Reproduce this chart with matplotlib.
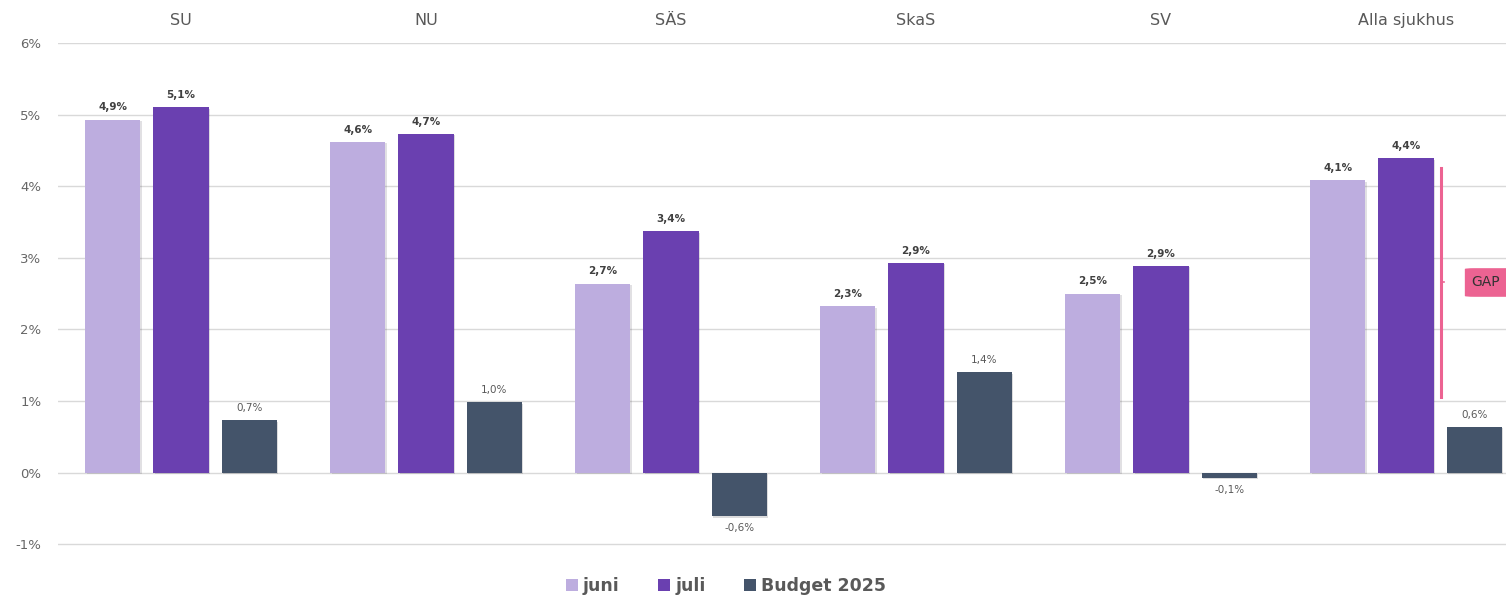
import matplotlib.pyplot as plt
import matplotlib.patheffects as pe
from matplotlib.patches import FancyBboxPatch
import numpy as np

groups = ["SU", "NU", "SÄS", "SkaS", "SV", "Alla sjukhus"]
juni = [4.93, 4.62, 2.64, 2.32, 2.50, 4.08]
juli = [5.10, 4.73, 3.37, 2.93, 2.89, 4.39]
budget = [0.73, 0.98, -0.61, 1.40, -0.07, 0.64]
juni_labels = ["4,9%", "4,6%", "2,7%", "2,3%", "2,5%", "4,1%"]
juli_labels = ["5,1%", "4,7%", "3,4%", "2,9%", "2,9%", "4,4%"]
budget_labels = ["0,7%", "1,0%", "-0,6%", "1,4%", "-0,1%", "0,6%"]
yticks = [-1, 0, 1, 2, 3, 4, 5, 6]
ytick_labels = ["-1%", "0%", "1%", "2%", "3%", "4%", "5%", "6%"]
gap_top, gap_bottom = 4.26, 1.05

c_juni = "#bdaddf"
c_juli = "#6a40b0"
c_budget = "#44546a"

fig = plt.figure(figsize=(15.06, 5.96), dpi=100)
ax = fig.add_axes([0.0385, 0.0809, 0.9615, 0.847])

x = np.arange(len(groups))
w = 0.225
off = 0.278
shadow = [pe.SimplePatchShadow(offset=(1, -1), alpha=0.15), pe.Normal()]

series = [(juni, juni_labels, c_juni, -off, "juni"),
          (juli, juli_labels, c_juli, 0, "juli"),
          (budget, budget_labels, c_budget, off, "Budget 2025")]
for vals, labs, col, dx, name in series:
    bars = ax.bar(x + dx, vals, w, color=col, label=name, zorder=3)
    for b in bars:
        b.set_path_effects(shadow)
    for xi, v, lab in zip(x + dx, vals, labs):
        bold = name != "Budget 2025"
        if v >= 0:
            ax.text(xi, v + 0.1, lab, ha="center", va="bottom", fontsize=7.5,
                    fontweight="bold" if bold else "normal",
                    color="#404040" if bold else "#595959")
        else:
            ax.text(xi, v - 0.1, lab, ha="center", va="top", fontsize=7.5,
                    color="#595959")

ax.set_xlim(-0.502, 5.408)
ax.set_ylim(-1.05, 6)
ax.set_yticks(yticks)
ax.set_yticklabels(ytick_labels, fontsize=9.5, color="#666666")
ax.set_xticks([])
ax.grid(axis="y", color="#d9d9d9", linewidth=1, zorder=0)
ax.tick_params(axis="y", length=0, pad=12)
for s in ax.spines.values():
    s.set_visible(False)

# group labels on top
for xi, g in zip(x, groups):
    ax.text(xi, 6.31, g, ha="center", va="center", fontsize=11.5,
            color="#595959", clip_on=False)

# GAP bracket
gx = 5.143
ax.plot([gx, gx], [gap_bottom, gap_top], color="#ec6392", linewidth=2.2, zorder=4)
mid = (gap_top + gap_bottom) / 2
ax.plot([gx, gx + 0.012], [mid, mid], color="#ec6392", linewidth=1.2, zorder=4)
box = FancyBboxPatch((5.24, mid - 0.2), 0.3, 0.4,
                     boxstyle="round,pad=0,rounding_size=0.04",
                     mutation_aspect=1 / 3.5, facecolor="#ec6392",
                     edgecolor="none", zorder=5)
ax.add_patch(box)
ax.text(5.265, mid, "GAP", ha="left", va="center", fontsize=10,
        color="#333333", zorder=6)

leg = fig.legend(loc="lower center", bbox_to_anchor=(0.482, -0.025), ncol=3,
                 frameon=False, handlelength=0.7, handleheight=0.7,
                 handletextpad=0.3, columnspacing=2.2,
                 prop={"size": 12.5, "weight": "bold"})
for t in leg.get_texts():
    t.set_color("#595959")
for h in leg.legend_handles:
    h.set_path_effects([])

fig.savefig("out.png", dpi=100)
